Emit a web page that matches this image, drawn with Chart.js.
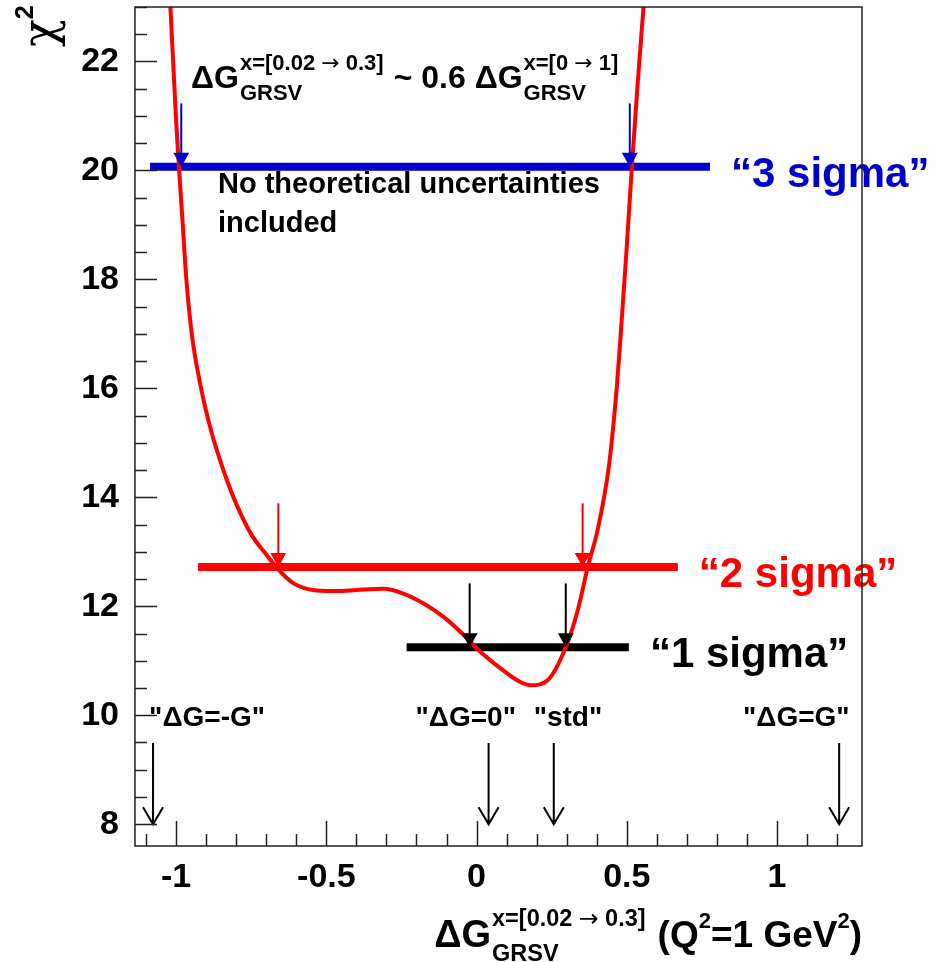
<!DOCTYPE html>
<html>
<head>
<meta charset="utf-8">
<script src="https://cdn.jsdelivr.net/npm/chart.js@4.4.0/dist/chart.umd.min.js"></script>
<style>
  html, body { margin: 0; padding: 0; background: #fff; }
  #wrap { width: 945px; height: 962px; }
</style>
</head>
<body>
<div id="wrap"><canvas id="chi2"></canvas></div>
<script>
// chi2 scan as a function of Delta G (GRSV, x in [0.02, 0.3])
var scanX = [-1.022, -1.01, -1.0, -0.99, -0.978, -0.966, -0.948, -0.917, -0.88, -0.83,
             -0.8, -0.75, -0.7, -0.667, -0.609, -0.531, -0.464, -0.398, -0.309, -0.242,
             -0.176, -0.109, -0.048, 0.008, 0.08, 0.136, 0.18, 0.236, 0.297, 0.337,
             0.37, 0.403, 0.44, 0.463, 0.48, 0.5, 0.517, 0.535, 0.56];
var scanChi2 = [23.3, 22.0, 20.9, 20.0, 19.0, 18.0, 17.0, 16.0, 15.15, 14.3,
                13.88, 13.32, 12.95, 12.72, 12.42, 12.29, 12.28, 12.3, 12.32, 12.23,
                12.05, 11.8, 11.5, 11.19, 10.86, 10.64, 10.55, 10.64, 11.25, 11.93,
                12.72, 13.4, 14.55, 15.78, 17.0, 18.6, 20.07, 21.5, 23.3];

// confidence levels: 1, 2, 3 sigma
var levelNames = ["\u201c1 sigma\u201d", "\u201c2 sigma\u201d", "\u201c3 sigma\u201d"];
var levelChi2 = [11.25, 12.72, 20.07];
var levelFrom = [-0.233, -0.927, -1.087];
var levelTo = [0.507, 0.67, 0.777];
var levelColors = ["#000000", "#ff0000", "#0000cc"];

// where the scan crosses each level
var crossLeft = [-0.023, -0.66, -0.983];
var crossRight = [0.297, 0.353, 0.51];
var crossArrowTop = [12.42, 13.89, 21.23];

// model predictions marked below the curve
var modelNames = ['"\u0394G=-G"', '"\u0394G=0"', '"std"', '"\u0394G=G"'];
var modelX = [-1.077, 0.04, 0.257, 1.207];
var modelLabelX = [-1.09, -0.203, 0.19, 0.887];
var modelArrowTop = 9.49;
var modelArrowTip = 8.0;
var modelLabelY = 9.94;

var xTicks = [-1, -0.5, 0, 0.5, 1];
var yTicks = [8, 10, 12, 14, 16, 18, 20, 22];

var FONT = "'Liberation Sans', Arial, Helvetica, sans-serif";
var ARROW_FONT = "'DejaVu Sans', sans-serif";

function bold(size) { return "bold " + size + "px " + FONT; }

// text runs; "\u2192" is set in a font with a wider arrow
function runWidth(ctx, s, size) {
  var w = 0;
  s.split(/(\u2192)/).forEach(function (piece) {
    if (!piece) return;
    ctx.font = piece === "\u2192" ? size + "px " + ARROW_FONT : bold(size);
    w += ctx.measureText(piece).width;
  });
  return w;
}

function drawRun(ctx, s, x, y, size) {
  s.split(/(\u2192)/).forEach(function (piece) {
    if (!piece) return;
    ctx.font = piece === "\u2192" ? size + "px " + ARROW_FONT : bold(size);
    ctx.fillText(piece, x, y);
    x += ctx.measureText(piece).width;
  });
  return x;
}

// base text followed by stacked superscript/subscript, returns end x
function drawScript(ctx, x, y, base, sup, sub, size, small) {
  x = drawRun(ctx, base, x, y, size) + 1;
  var w = 0;
  if (sup) { drawRun(ctx, sup, x, y - size * 0.56, small); w = runWidth(ctx, sup, small); }
  if (sub) { drawRun(ctx, sub, x, y + size * 0.38, small); w = Math.max(w, runWidth(ctx, sub, small)); }
  return x + w;
}

function filledArrow(ctx, px, top, tip, color) {
  ctx.strokeStyle = color;
  ctx.fillStyle = color;
  ctx.lineWidth = 2;
  ctx.beginPath();
  ctx.moveTo(px, top);
  ctx.lineTo(px, tip - 10);
  ctx.stroke();
  ctx.beginPath();
  ctx.moveTo(px - 8, tip - 14);
  ctx.lineTo(px + 8, tip - 14);
  ctx.lineTo(px, tip);
  ctx.closePath();
  ctx.fill();
}

function openArrow(ctx, px, top, tip) {
  ctx.strokeStyle = "#000";
  ctx.lineWidth = 2;
  ctx.beginPath();
  ctx.moveTo(px, top);
  ctx.lineTo(px, tip);
  ctx.moveTo(px - 10, tip - 17);
  ctx.lineTo(px, tip);
  ctx.lineTo(px + 10, tip - 17);
  ctx.stroke();
}

var decorations = {
  id: "decorations",
  afterDatasetsDraw: function (chart) {
    var ctx = chart.ctx, xs = chart.scales.x, ys = chart.scales.y, a = chart.chartArea;
    ctx.save();

    // arrows at the level crossings
    for (var i = 0; i < levelChi2.length; i++) {
      var t = ys.getPixelForValue(crossArrowTop[i]), b = ys.getPixelForValue(levelChi2[i]);
      filledArrow(ctx, xs.getPixelForValue(crossLeft[i]), t, b, levelColors[i]);
      filledArrow(ctx, xs.getPixelForValue(crossRight[i]), t, b, levelColors[i]);
    }

    // model markers
    ctx.textBaseline = "middle";
    ctx.textAlign = "left";
    ctx.fillStyle = "#000";
    ctx.font = bold(28);
    for (var j = 0; j < modelX.length; j++) {
      openArrow(ctx, xs.getPixelForValue(modelX[j]), ys.getPixelForValue(modelArrowTop),
                ys.getPixelForValue(modelArrowTip));
      ctx.fillText(modelNames[j], xs.getPixelForValue(modelLabelX[j]), ys.getPixelForValue(modelLabelY));
    }

    // level names
    ctx.textBaseline = "alphabetic";
    ctx.font = bold(42);
    for (var k = 0; k < levelNames.length; k++) {
      ctx.fillStyle = levelColors[k];
      ctx.fillText(levelNames[k], xs.getPixelForValue(levelTo[k]) + 21, ys.getPixelForValue(levelChi2[k]) + 20);
    }

    // annotations
    ctx.fillStyle = "#000";
    var ex = drawScript(ctx, 191, 88, "\u0394G", "x=[0.02 \u2192 0.3]", "GRSV", 32, 22);
    ex = drawRun(ctx, "~ 0.6 ", ex + 10, 88, 32);
    drawScript(ctx, ex, 88, "\u0394G", "x=[0 \u2192 1]", "GRSV", 32, 22);

    ctx.font = bold(29);
    ctx.fillText("No theoretical uncertainties", 218, 193);
    ctx.fillText("included", 218, 232);

    // x axis title, right aligned at the frame
    var tail = [["(Q", 37], ["2", 22, -19], ["=1 GeV", 37], ["2", 22, -19], [")", 37]];
    var tw = 0;
    tail.forEach(function (p) { ctx.font = bold(p[1]); tw += ctx.measureText(p[0]).width; });
    var tx = a.right - tw;
    tail.forEach(function (p) {
      ctx.font = bold(p[1]);
      ctx.fillText(p[0], tx, 947 + (p[2] || 0));
      tx += ctx.measureText(p[0]).width;
    });
    var supW = runWidth(ctx, "x=[0.02 \u2192 0.3]", 23.5);
    var baseW = runWidth(ctx, "\u0394G", 38);
    drawScript(ctx, a.right - tw - 12 - supW - 1 - baseW, 947, "\u0394G", "x=[0.02 \u2192 0.3]", "GRSV", 38, 23.5);

    // y axis title
    ctx.save();
    ctx.translate(55, 47);
    ctx.rotate(-Math.PI / 2);
    ctx.font = "46px 'DejaVu Serif', serif";
    ctx.fillText("\u03c7", 0, 0);
    var cw = ctx.measureText("\u03c7").width;
    ctx.font = bold(25);
    ctx.fillText("2", cw, -22);
    ctx.restore();

    // frame and inward ticks
    ctx.strokeStyle = "#222";
    ctx.lineWidth = 1.5;
    ctx.beginPath();
    var v, p;
    for (v = 8; v <= 23.001; v += 0.5) {
      p = Math.round(ys.getPixelForValue(v)) + 0.5;
      var len = (Math.abs(v % 2) < 0.01) ? 22 : 12;
      ctx.moveTo(a.left, p);
      ctx.lineTo(a.left + len, p);
    }
    for (v = -11; v <= 12; v++) {
      p = Math.round(xs.getPixelForValue(v / 10)) + 0.5;
      var lx = (v % 5 === 0) ? 25 : 12;
      ctx.moveTo(p, a.bottom);
      ctx.lineTo(p, a.bottom - lx);
    }
    ctx.stroke();
    ctx.strokeRect(a.left, a.top, a.right - a.left, a.bottom - a.top);
    ctx.restore();
  }
};

var datasets = [{
  data: scanX.map(function (x, i) { return { x: x, y: scanChi2[i] }; }),
  borderColor: "#ff0000",
  borderWidth: 4,
  pointRadius: 0,
  cubicInterpolationMode: "monotone"
}];
for (var i = 0; i < levelChi2.length; i++) {
  datasets.push({
    data: [{ x: levelFrom[i], y: levelChi2[i] }, { x: levelTo[i], y: levelChi2[i] }],
    borderColor: levelColors[i],
    borderWidth: 8,
    borderCapStyle: "butt",
    pointRadius: 0
  });
}

// keep the plot frame fixed: no extra room for overhanging tick labels
function noOverhang(s) {
  s.paddingTop = 0; s.paddingBottom = 0; s.paddingLeft = 0; s.paddingRight = 0;
}

new Chart(document.getElementById("chi2"), {
  type: "line",
  data: { datasets: datasets },
  options: {
    responsive: true,
    maintainAspectRatio: false,
    animation: false,
    layout: { padding: { left: 0, top: 7, right: 83, bottom: 0 } },
    plugins: { legend: { display: false }, tooltip: { enabled: false } },
    scales: {
      x: {
        type: "linear",
        min: -1.137,
        max: 1.283,
        grid: { display: false },
        border: { display: false },
        afterBuildTicks: function (s) { s.ticks = xTicks.map(function (v) { return { value: v }; }); },
        afterFit: function (s) { s.height = 116; noOverhang(s); },
        ticks: {
          autoSkip: false,
          maxRotation: 0,
          padding: 3,
          color: "#000",
          font: { family: FONT, size: 34, weight: "bold" },
          callback: function (v) { return String(v); }
        }
      },
      y: {
        type: "linear",
        min: 7.6,
        max: 23.0,
        grid: { display: false },
        border: { display: false },
        afterBuildTicks: function (s) { s.ticks = yTicks.map(function (v) { return { value: v }; }); },
        afterFit: function (s) { s.width = 135; noOverhang(s); },
        ticks: {
          autoSkip: false,
          padding: 8,
          color: "#000",
          font: { family: FONT, size: 34, weight: "bold" },
          callback: function (v) { return String(v); }
        }
      }
    }
  },
  plugins: [decorations]
});
</script>
</body>
</html>
